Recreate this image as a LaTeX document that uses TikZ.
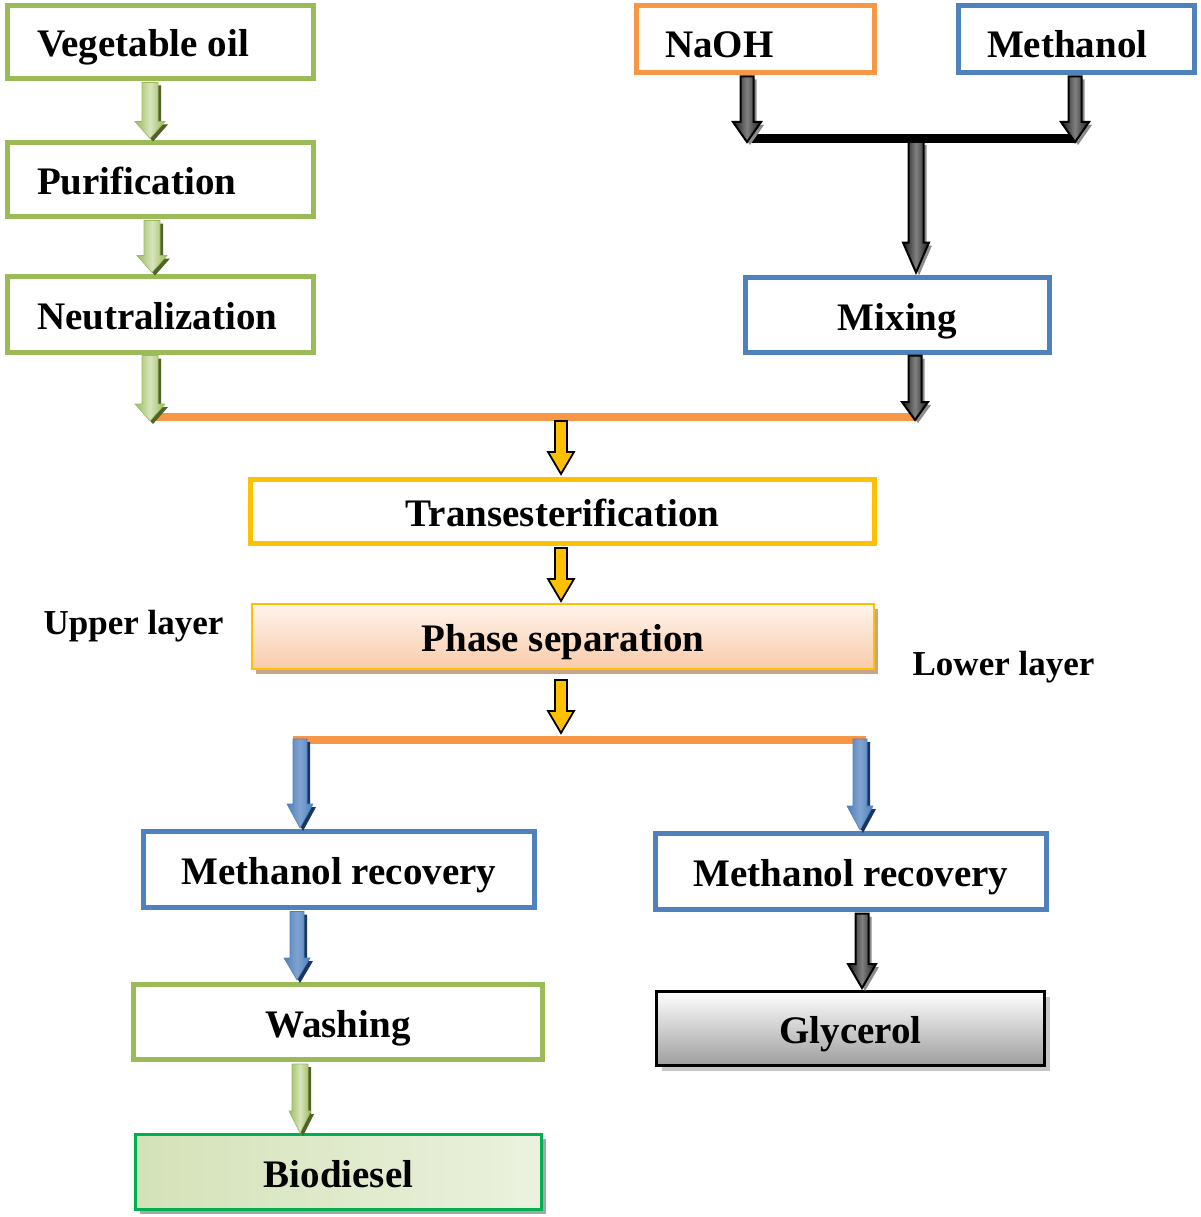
\documentclass[tikz,border=0pt]{standalone}
\usepackage{fontspec}
\setmainfont{Liberation Serif}
\usetikzlibrary{calc,shadows}
\definecolor{gbox}{HTML}{9BBB59}
\definecolor{obox}{HTML}{F79646}
\definecolor{bbox}{HTML}{4F81BD}
\definecolor{ybox}{HTML}{FFC000}
\definecolor{dgreen}{HTML}{4F6228}
\definecolor{lgreen}{HTML}{D7E4BD}
\definecolor{dblue}{HTML}{17375E}
\definecolor{lblue}{HTML}{7FA3D0}
\definecolor{bgreen}{HTML}{00B050}
\definecolor{peach}{HTML}{F9CBAA}
\definecolor{peachtop}{HTML}{FFF4EC}
\definecolor{tanshadow}{HTML}{C9A48A}
% vertical block arrow: style, shaft half width, head half width, head length, start, end
\newcommand\varrow[6]{\path[#1] let \p1=#5, \p2=#6 in
  (\x1-#2,\y1) -- (\x1-#2,\y2+#4) -- (\x1-#3,\y2+#4) -- (\x1,\y2) --
  (\x1+#3,\y2+#4) -- (\x1+#2,\y2+#4) -- (\x1+#2,\y1) -- cycle;}
\tikzset{
  box/.style={rectangle, line width=5pt, fill=white, inner sep=0pt, outer sep=0pt,
    text height=34pt, text depth=4pt,
    font=\bfseries\fontsize{39}{44}\selectfont},
  lbl/.style={font=\bfseries\fontsize{35}{40}\selectfont, inner sep=0pt},
  garrow/.style={draw=gbox, line width=0.6pt, shade, left color=gbox, right color=gbox, middle color=lgreen,
    drop shadow={shadow xshift=3pt, shadow yshift=-3pt, fill=dgreen, opacity=1}},
  barrow/.style={draw=bbox, line width=0.6pt, shade, left color=bbox, right color=bbox, middle color=lblue,
    drop shadow={shadow xshift=3pt, shadow yshift=-3pt, fill=dblue, opacity=1}},
  karrow/.style={draw=black, line width=2pt, shade, left color=black!90, right color=black!90, middle color=black!50,
    drop shadow={shadow xshift=3pt, shadow yshift=-3pt, fill=black!45, opacity=1}},
  yarrow/.style={draw=black, line width=1.8pt, fill=ybox},
  oline/.style={draw=obox, line width=8pt},
  kline/.style={draw=black, line width=9pt}
}
\begin{document}
\begin{tikzpicture}[x=1pt,y=-1pt]
\useasboundingbox (0,0) rectangle (1200,1217);
% left column
\node[box, draw=gbox, minimum width=306, minimum height=73] (veg) at (160.5,42) {\makebox[247pt][l]{Vegetable oil}};
\node[box, draw=gbox, minimum width=306, minimum height=74] (pur) at (160.5,179.5) {\makebox[247pt][l]{Purification}};
\node[box, draw=gbox, minimum width=306, minimum height=76] (neu) at (160.5,314.5) {\makebox[247pt][l]{Neutralization}};
% right column
\node[box, draw=obox, minimum width=238, minimum height=67, text height=42pt] (naoh) at (755.5,39) {\makebox[181pt][l]{NaOH}};
\node[box, draw=bbox, minimum width=236, minimum height=67, text height=42pt] (meth) at (1076.5,39) {\makebox[179pt][l]{Methanol}};
\node[box, draw=bbox, minimum width=304, minimum height=75] (mix) at (897.5,315) {Mixing};
% middle
\node[box, draw=ybox, minimum width=624, minimum height=64] (trans) at (562.5,511.5) {Transesterification};
\node[box, draw=ybox, line width=2pt, minimum width=622, minimum height=65, top color=peachtop, bottom color=peach,
  drop shadow={shadow xshift=4pt, shadow yshift=-5pt, fill=tanshadow, opacity=1}] (phase) at (563,636.5) {Phase separation};
\node[lbl] (upper) at (133.5,626) {Upper layer};
\node[lbl] (lower) at (1003.5,667) {Lower layer};
% bottom
\node[box, draw=bbox, minimum width=391, minimum height=76] (mrl) at (339,869.5) {Methanol recovery};
\node[box, draw=bbox, minimum width=391, minimum height=76] (mrr) at (851,871.5) {Methanol recovery};
\node[box, draw=gbox, minimum width=409, minimum height=75] (wash) at (338,1022) {Washing};
\node[box, draw=black, line width=3pt, minimum width=388, minimum height=74, top color=white, bottom color=black!38,
  drop shadow={shadow xshift=5pt, shadow yshift=-5pt, fill=black!22, opacity=1}] (gly) at (850.5,1028.5) {Glycerol};
\node[box, draw=bgreen, line width=3pt, minimum width=406, minimum height=75, left color=lgreen!95!gbox, right color=lgreen!50,
  drop shadow={shadow xshift=4pt, shadow yshift=-4pt, fill=black!35, opacity=1}] (bio) at (338.5,1172) {Biodiesel};
% junction coordinates
\coordinate (bL) at (748,139);
\coordinate (bR) at (1077,139);
\coordinate (bM) at (916,139);
\coordinate (oL) at (156,417);
\coordinate (oR) at (917,417);
\coordinate (oM) at (561,417);
\coordinate (pL) at (293,740);
\coordinate (pR) at (866,740);
\coordinate (pM) at (561,740);
% lines
\path[kline] (bL) -- (bR);
\path[oline] (oL) -- (oR);
\path[oline] (pL) -- (pR);
% green arrows left column
\varrow{garrow}{8pt}{15pt}{17pt}{($(veg.south)+(-10.5,4)$)}{($(pur.north)+(0,-4)$)}
\varrow{garrow}{8pt}{15pt}{17pt}{($(pur.south)+(-8.5,4)$)}{($(neu.north)+(0,-4)$)}
\varrow{garrow}{8pt}{15pt}{17pt}{($(neu.south)+(-10.5,3)$)}{($(oL)+(-5,4)$)}
% black arrows right column
\varrow{karrow}{6.5pt}{14pt}{20pt}{($(naoh.south)+(-8.5,4)$)}{($(bL)+(0,3)$)}
\varrow{karrow}{6.5pt}{14pt}{20pt}{($(meth.south)+(-1.5,4)$)}{($(bR)+(0,3)$)}
\varrow{karrow}{7.5pt}{13pt}{30pt}{($(bM)+(0,3)$)}{($(mix.north)+(0,-5)$)}
\varrow{karrow}{6.5pt}{13pt}{18pt}{($(mix.south)+(17.5,3)$)}{($(oR)+(0,3)$)}
% yellow arrows
\varrow{yarrow}{6pt}{13pt}{22pt}{($(oM)+(0,4)$)}{($(trans.north)+(0,-5.5)$)}
\varrow{yarrow}{6pt}{13pt}{22pt}{($(trans.south)+(-1.5,4.5)$)}{($(phase.north)+(0,-3)$)}
\varrow{yarrow}{6pt}{13pt}{22pt}{($(phase.south)+(-2,11)$)}{($(pM)+(0,-7)$)}
% blue arrows
\varrow{barrow}{7pt}{13pt}{24pt}{($(pL)+(7,-1)$)}{($(mrl.north)+(0,-3.5)$)}
\varrow{barrow}{7pt}{13pt}{24pt}{($(pR)+(-6,-1)$)}{($(mrr.north)+(0,-3.5)$)}
\varrow{barrow}{7pt}{13pt}{22pt}{($(mrl.south)+(-42,4)$)}{($(wash.north)+(0,-4.5)$)}
% bottom arrows
\varrow{karrow}{6.5pt}{14pt}{24pt}{($(mrr.south)+(11,4)$)}{($(gly.north)+(0,-3.5)$)}
\varrow{garrow}{8pt}{11pt}{22pt}{($(wash.south)+(-38,4.5)$)}{($(bio.north)+(0,-1.5)$)}
\end{tikzpicture}
\end{document}
